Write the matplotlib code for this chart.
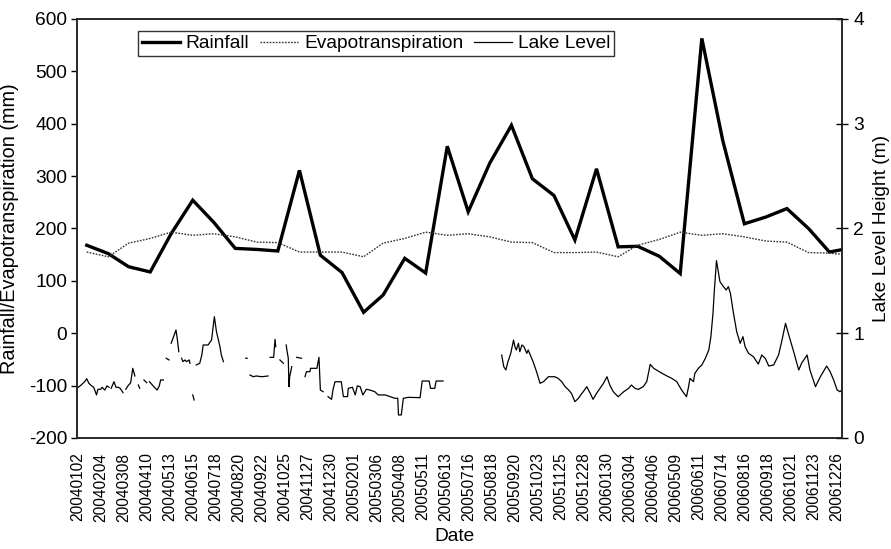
import numpy as np
import matplotlib
matplotlib.use("Agg")
import matplotlib.pyplot as plt
from datetime import date, timedelta

plt.rcParams['font.family'] = ['Liberation Sans', 'DejaVu Sans']
plt.rcParams['axes.unicode_minus'] = False

# Monthly totals (mm), one value per month, plotted mid-month
month_start = "2004-01"
rainfall = [168, 152, 127, 117, 190, 254, 212, 162, 160, 157, 311, 149,
            116, 40, 73, 143, 115, 357, 232, 325, 397, 295, 263, 178,
            314, 165, 166, 147, 114, 563, 368, 209, 222, 238, 200, 155,
            163]
evapotranspiration = [155, 146, 172, 181, 193, 187, 190, 184, 174, 173, 155, 155,
                      155, 146, 172, 181, 193, 187, 190, 184, 174, 173, 154, 154,
                      155, 146, 168, 179, 193, 187, 190, 184, 176, 174, 154, 153,
                      149]

# Lake level height (m); day = days since 2004-01-01, NaN marks missing records
nan = float("nan")
lake_day = [2, 6, 11, 14, 17, 21, 24, 28, 30, 34, 36, 40, 43, 46, 47,
            49, 53, 56, 59, 62, 66, 67,
            70, 73, 77, 80, 83, 84,
            88, 90, 91,
            96, 100, 101,
            104, 108, 111, 115, 118, 120, 124, 125,
            128, 132, 133,
            135, 142, 144, 146, 147,
            150, 152, 155, 157, 161, 162, 163,
            166, 168, 169,
            171, 176, 179, 181, 188, 193, 197, 200, 205, 207, 210, 211,
            242, 244, 245,
            248, 253, 257, 265, 274, 275,
            277, 282, 284, 285, 286,
            291, 296, 297,
            300, 301, 303, 304, 305, 308, 309,
            315, 322, 323,
            327, 329, 334, 335, 344, 347, 349, 353, 354,
            360, 365, 367, 370, 379, 382, 388, 389, 395, 399, 402, 406, 410,
            415, 420, 427, 432, 442, 449, 456, 460, 461, 465, 468, 475, 492,
            495, 505, 507, 513, 515, 525, 526,
            609, 612, 615, 618, 622, 626, 628, 630, 633, 635, 638, 641, 645,
            647, 650, 654, 659, 664, 669, 676, 685, 690, 695, 700, 705, 709,
            714, 719, 724, 726, 731, 736, 740, 745, 750, 755, 760, 764, 769,
            776, 784, 791, 795, 800, 805, 812, 817, 822, 827, 831, 839, 846,
            853, 860, 867, 874, 877, 879, 884, 886, 891, 896, 901, 906, 909,
            912, 914, 917, 920, 922, 927, 931, 934, 937, 941, 946, 951, 955,
            958, 963, 970, 977, 982, 987, 992, 999, 1006, 1011, 1016, 1020,
            1027, 1035, 1039, 1047, 1051, 1059, 1066, 1075, 1080, 1085, 1090,
            1094, 1097]
lake_level = [0.484, 0.506, 0.537, 0.566, 0.522, 0.497, 0.484, 0.411, 0.465, 0.465, 0.484, 0.458, 0.497, 0.484, nan,
              0.474, 0.537, 0.484, 0.484, 0.474, 0.433, nan,
              0.465, 0.497, 0.528, 0.665, 0.592, nan,
              0.506, 0.474, nan,
              0.554, 0.528, nan,
              0.537, 0.506, 0.484, 0.458, 0.497, 0.554, 0.554, nan,
              0.761, 0.745, nan,
              0.904, 1.031, 0.936, 0.824, nan,
              0.761, 0.729, 0.745, 0.729, 0.745, 0.713, nan,
              0.411, 0.363, nan,
              0.697, 0.713, 0.792, 0.888, 0.888, 0.936, 1.158, 1.015, 0.872, 0.792, 0.729, nan,
              0.761, 0.761, nan,
              0.601, 0.585, 0.592, 0.585, 0.592, nan,
              0.770, 0.770, 0.942, 0.872, nan,
              0.745, 0.713, nan,
              0.888, 0.840, 0.761, 0.490, 0.586, 0.681, nan,
              0.770, 0.761, nan,
              0.585, 0.633, 0.633, 0.665, 0.665, 0.770, 0.458, 0.442, nan,
              0.395, 0.369, 0.458, 0.537, 0.537, 0.395, 0.395, 0.474, 0.484, 0.411, 0.497, 0.490, 0.411,
              0.465, 0.458, 0.442, 0.411, 0.411, 0.395, 0.379, 0.379, 0.220, 0.220, 0.379, 0.388, 0.385,
              0.544, 0.544, 0.474, 0.474, 0.544, 0.544, nan,
              0.792, 0.681, 0.649, 0.729, 0.808, 0.935, 0.872, 0.840, 0.904, 0.824, 0.888, 0.872, 0.808,
              0.840, 0.792, 0.729, 0.633, 0.522, 0.538, 0.585, 0.585, 0.569, 0.538, 0.490, 0.458, 0.426,
              0.347, 0.379, 0.426, 0.442, 0.490, 0.426, 0.369, 0.426, 0.474, 0.522, 0.585, 0.506, 0.442,
              0.394, 0.442, 0.474, 0.506, 0.474, 0.464, 0.490, 0.538, 0.703, 0.665, 0.649, 0.617, 0.592,
              0.569, 0.538, 0.458, 0.394, 0.490, 0.569, 0.538, 0.617, 0.665, 0.697, 0.760, 0.840, 0.967,
              1.190, 1.413, 1.693, 1.572, 1.492, 1.445, 1.413, 1.445, 1.381, 1.206, 1.015, 0.904, 0.967,
              0.872, 0.808, 0.776, 0.706, 0.792, 0.760, 0.687, 0.697, 0.792, 0.935, 1.094, 0.999,
              0.840, 0.649, 0.713, 0.792, 0.649, 0.490, 0.585, 0.687, 0.633, 0.554, 0.458,
              0.442, 0.458]

tick_labels = ["20040102", "20040204", "20040308", "20040410", "20040513", "20040615",
               "20040718", "20040820", "20040922", "20041025", "20041127", "20041230",
               "20050201", "20050306", "20050408", "20050511", "20050613", "20050716",
               "20050818", "20050920", "20051023", "20051125", "20051228", "20060130",
               "20060304", "20060406", "20060509", "20060611", "20060714", "20060816",
               "20060918", "20061021", "20061123", "20061226"]

# ---- derive dates
y0, m0 = map(int, month_start.split("-"))
month_dates = []
for i in range(len(rainfall)):
    y = y0 + (m0 - 1 + i) // 12
    m = (m0 - 1 + i) % 12 + 1
    month_dates.append(date(y, m, 15))
origin = date(2004, 1, 1)
lake_dates = [origin + timedelta(days=d) for d in lake_day]
tick_dates = [date(int(s[:4]), int(s[4:6]), int(s[6:])) for s in tick_labels]

fig = plt.figure(figsize=(8.91, 5.49), dpi=100)
ax = fig.add_axes([0.0864, 0.2022, 0.9450 - 0.0864, 0.9654 - 0.2022])
ax2 = ax.twinx()

l_rain, = ax.plot(month_dates, rainfall, color="black", lw=2.4,
                  solid_joinstyle="miter")
l_et, = ax.plot(month_dates, evapotranspiration, color="#333333", lw=1.0,
                linestyle=(0, (1.2, 1.0)))
l_lake, = ax2.plot(lake_dates, lake_level, color="black", lw=0.9)

ax.set_xlim(date(2004, 1, 1), date(2007, 1, 2))
ax.set_ylim(-200, 600)
ax2.set_ylim(0, 4)
ax.set_yticks(np.arange(-200, 601, 100))
ax2.set_yticks([0, 1, 2, 3, 4])

ax.set_xticks(tick_dates)
ax.set_xticklabels(tick_labels, rotation=90, fontsize=11.2)
ax.tick_params(axis="x", length=0, pad=10.5)
ax.tick_params(axis="y", direction="out", length=4, width=1, labelsize=13.8, pad=3)
ax2.tick_params(axis="y", direction="inout", length=8, width=1, labelsize=13.8, pad=4)

for a in (ax, ax2):
    for s in a.spines.values():
        s.set_linewidth(1.1)
        s.set_color("#222222")

ax.set_ylabel("Rainfall/Evapotranspiration (mm)", fontsize=14.3)
ax.yaxis.set_label_coords(-0.076, 0.5)
ax2.set_ylabel("Lake Level Height (m)", fontsize=13.8, rotation=90)
ax2.yaxis.set_label_coords(1.041, 0.5)
ax.set_xlabel("Date", fontsize=13.8)
ax.xaxis.set_label_coords(0.494, -0.216)

leg = ax2.legend([l_rain, l_et, l_lake], ["Rainfall", "Evapotranspiration", "Lake Level"],
                 loc="upper left", bbox_to_anchor=(0.0797, 0.971), ncol=3,
                 fontsize=13.8, frameon=True, fancybox=False, handlelength=2.0,
                 handletextpad=0.3, columnspacing=0.55, borderpad=0.2,
                 borderaxespad=0)
leg.get_frame().set_edgecolor("black")
leg.get_frame().set_linewidth(1.0)

fig.savefig("out.png", dpi=100)
